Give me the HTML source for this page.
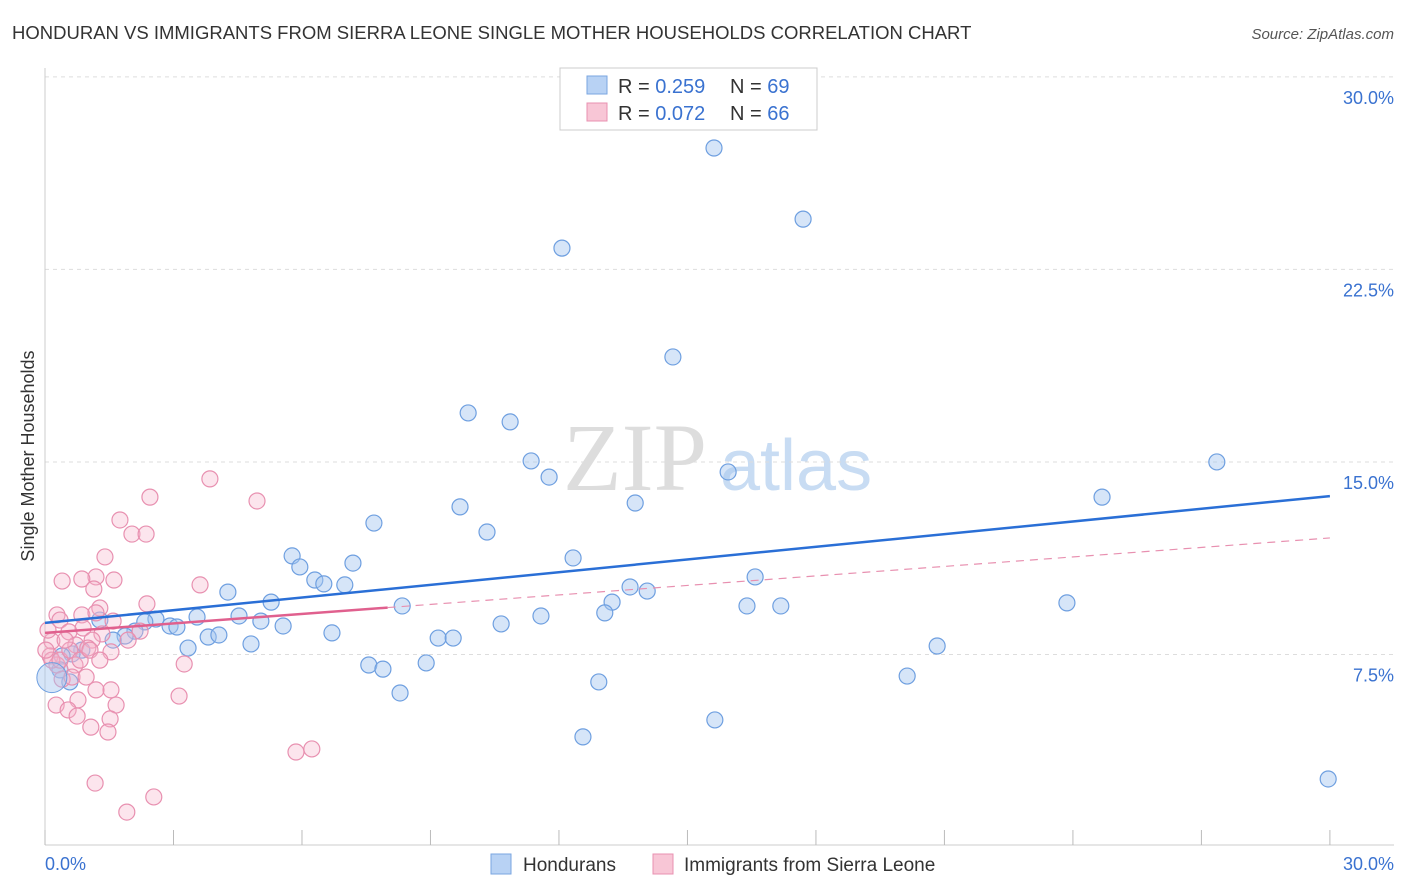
<!DOCTYPE html>
<html><head><meta charset="utf-8"><style>
body{margin:0;background:#fff;font-family:"Liberation Sans",sans-serif;}
svg{display:block}
</style></head><body>
<svg id="chart" width="1406" height="892">
<text x="12" y="39" font-size="18.5" fill="#333">HONDURAN VS IMMIGRANTS FROM SIERRA LEONE SINGLE MOTHER HOUSEHOLDS CORRELATION CHART</text>
<text x="1394" y="39" font-size="15" fill="#555" font-style="italic" text-anchor="end">Source: ZipAtlas.com</text>
<text x="635" y="490" font-size="96" fill="#ddd" text-anchor="middle" font-family="Liberation Serif,serif">ZIP</text>
<text x="720" y="490" font-size="72" fill="#c8dcf3">atlas</text>
<text x="34" y="456" font-size="18" fill="#333" text-anchor="middle" transform="rotate(-90 34 456)">Single Mother Households</text>
<g id="grid"></g><g id="ticks"></g><g id="pts"></g><g id="lines"></g>
<g>
<rect x="560" y="68" width="257" height="62" fill="#fff" stroke="#ccc"/>
<rect x="587" y="76" width="20" height="18" fill="#b8d2f4" stroke="#7aa6e0"/>
<text x="618" y="93" font-size="20" fill="#333">R = <tspan fill="#3a72d0">0.259</tspan></text>
<text x="730" y="93" font-size="20" fill="#333">N = <tspan fill="#3a72d0">69</tspan></text>
<rect x="587" y="103" width="20" height="18" fill="#f8c6d6" stroke="#e890b0"/>
<text x="618" y="120" font-size="20" fill="#333">R = <tspan fill="#3a72d0">0.072</tspan></text>
<text x="730" y="120" font-size="20" fill="#333">N = <tspan fill="#3a72d0">66</tspan></text>
</g>
<g>
<rect x="491" y="854" width="20" height="20" fill="#b8d2f4" stroke="#7aa6e0"/>
<text x="523" y="871" font-size="19" fill="#333">Hondurans</text>
<rect x="653" y="854" width="20" height="20" fill="#f8c6d6" stroke="#e890b0"/>
<text x="684" y="871" font-size="19" fill="#333">Immigrants from Sierra Leone</text>
</g>
<text x="45" y="870" font-size="18" fill="#3a72d0">0.0%</text>
<text x="1394" y="870" font-size="18" fill="#3a72d0" text-anchor="end">30.0%</text>
</svg>
<script>
const yTicks=[30,22.5,15,7.5];
const yTickLabels=["30.0%","22.5%","15.0%","7.5%"];
const xTicks=[0,3,6,9,12,15,18,21,24,27,30];
const hondX=[15.62,17.70,12.07,14.66,9.88,10.86,11.35,11.77,15.95,27.36,24.68,13.78,9.69,7.68,10.32,12.33,5.77,5.95,7.19,6.30,6.51,7.00,4.27,5.28,8.34,16.58,13.66,14.06,13.24,13.07,11.58,16.39,17.18,23.86,3.55,4.53,5.04,5.56,2.59,2.33,2.92,3.08,2.10,1.87,1.59,1.28,3.81,4.06,6.70,9.18,9.53,10.65,3.34,4.81,0.86,0.63,0.40,0.35,0.58,7.56,7.89,8.90,8.29,12.93,20.13,20.83,15.64,12.56,29.96];
const hondY=[27.23,24.46,23.33,19.09,16.91,16.56,15.04,14.41,14.61,15.00,13.63,13.40,13.25,12.62,12.27,11.26,11.34,10.91,11.06,10.40,10.25,10.21,9.93,9.54,9.39,10.52,10.13,9.97,9.54,9.12,9.00,9.39,9.39,9.51,8.96,9.00,8.80,8.61,8.88,8.77,8.61,8.57,8.41,8.22,8.06,8.84,8.18,8.26,8.34,8.14,8.14,8.69,7.75,7.91,7.67,7.52,7.44,6.90,6.43,7.09,6.93,7.17,6.00,6.43,6.66,7.83,4.95,4.29,2.65];
const sierraX=[2.45,3.85,4.95,1.75,2.03,2.36,1.40,1.19,1.61,0.86,0.40,3.62,1.14,2.38,1.28,0.28,0.86,1.19,1.59,0.35,0.56,0.89,1.33,2.22,1.94,1.10,1.54,0.72,1.00,0.16,0.12,0.28,0.70,0.40,0.63,0.96,1.54,3.25,3.13,1.19,0.77,0.26,0.54,0.75,1.66,1.52,1.07,1.47,5.86,6.23,1.17,2.54,1.91,0.16,0.02,0.35,0.58,0.82,1.05,1.28,0.07,0.47];
const sierraY=[13.63,14.34,13.48,12.74,12.19,12.19,11.30,10.52,10.40,10.44,10.36,10.21,10.05,9.47,9.31,9.04,9.04,9.12,8.80,8.84,8.38,8.53,8.30,8.41,8.06,8.06,7.60,7.87,7.75,8.02,7.44,7.09,7.09,6.54,6.62,6.62,6.12,7.13,5.88,6.12,5.73,5.53,5.34,5.10,5.53,4.99,4.67,4.48,3.70,3.82,2.49,1.95,1.36,7.28,7.67,7.28,7.67,7.28,7.67,7.28,8.45,8.06];
const hondTrend=[8.73,13.67];
const sierraTrend=[8.34,12.04];
const sierraSolidEnd=8.0;

const NS="http://www.w3.org/2000/svg";
const X=v=>45+v*42.83, Y=v=>847-v*25.67;
function mk(tag,attrs,parent){const e=document.createElementNS(NS,tag);for(const k in attrs)e.setAttribute(k,attrs[k]);parent.appendChild(e);return e;}
const grid=document.getElementById('grid'),ticks=document.getElementById('ticks'),pts=document.getElementById('pts'),lines=document.getElementById('lines');
yTicks.forEach((t,i)=>{
 const l=mk('line',{x1:45,x2:1394,y1:Y(t),y2:Y(t),stroke:'#ddd','stroke-dasharray':'4,4'},grid);
 
 
 const tx=mk('text',{x:1394,y:Y(t)+27,'font-size':18,fill:'#3a72d0','text-anchor':'end'},grid);
 tx.textContent=yTickLabels[i];
 
 
});
const ax=mk('line',{x1:45,x2:45,y1:68,y2:845,stroke:'#ccc'},grid);


const bx=mk('line',{x1:45,x2:1394,y1:845,y2:845,stroke:'#ccc'},grid);


xTicks.forEach(t=>{
 const l=mk('line',{x1:X(t),x2:X(t),y1:830,y2:845,stroke:'#bbb'},ticks);
 
 
});
hondX.forEach((v,i)=>{
 const c=mk('circle',{cx:X(v),cy:Y(hondY[i]),r:8,fill:'rgba(165,198,240,0.45)',stroke:'#6e9fe0','stroke-width':1.2},pts);
 
 
});
sierraX.forEach((v,i)=>{
 const c=mk('circle',{cx:X(v),cy:Y(sierraY[i]),r:8,fill:'rgba(246,180,202,0.35)',stroke:'#e890b0','stroke-width':1.2},pts);
 
 
});
const big=mk('circle',{cx:X(0.16),cy:Y(6.6),r:15,fill:'rgba(165,198,240,0.45)',stroke:'#6e9fe0'},pts);


const bl=mk('line',{x1:X(0),y1:Y(hondTrend[0]),x2:X(30),y2:Y(hondTrend[1]),stroke:'#2a6fd6','stroke-width':2.5},lines);


const ps=sierraTrend[0]+(sierraTrend[1]-sierraTrend[0])*sierraSolidEnd/30;
const pl=mk('line',{x1:X(0),y1:Y(sierraTrend[0]),x2:X(sierraSolidEnd),y2:Y(ps),stroke:'#e0608e','stroke-width':2.5},lines);


const pd=mk('line',{x1:X(sierraSolidEnd),y1:Y(ps),x2:X(30),y2:Y(sierraTrend[1]),stroke:'#e890b0','stroke-width':1.2,'stroke-dasharray':'8,6'},lines);


</script>
</body></html>
